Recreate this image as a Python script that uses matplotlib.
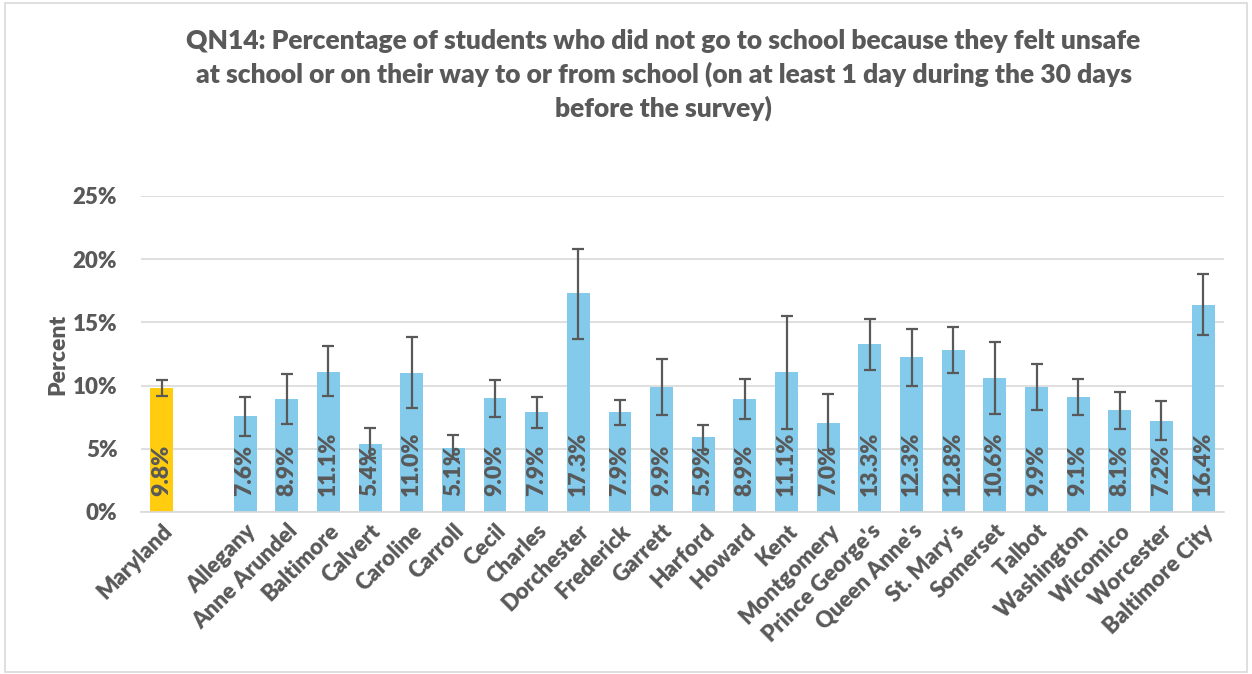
import numpy as np
import matplotlib.pyplot as plt
from matplotlib.patches import Rectangle

plt.rcParams['font.family'] = ['Lato', 'DejaVu Sans']

# data
state_name = 'Maryland'
state_value = 9.8
state_lo = 9.16
state_hi = 10.43

counties = ['Allegany', 'Anne Arundel', 'Baltimore', 'Calvert', 'Caroline', 'Carroll',
            'Cecil', 'Charles', 'Dorchester', 'Frederick', 'Garrett', 'Harford',
            'Howard', 'Kent', 'Montgomery', "Prince George's", "Queen Anne's",
            "St. Mary's", 'Somerset', 'Talbot', 'Washington', 'Wicomico',
            'Worcester', 'Baltimore City']
county_values = [7.6, 8.9, 11.1, 5.4, 11.0, 5.1, 9.0, 7.9, 17.3, 7.9, 9.9, 5.9,
                 8.9, 11.1, 7.0, 13.3, 12.3, 12.8, 10.6, 9.9, 9.1, 8.1, 7.2, 16.4]
county_lo = [6.02, 6.94, 9.16, 4.3, 8.24, 4.2, 7.50, 6.65, 13.67, 6.86, 7.66, 4.94,
             7.34, 6.6, 4.88, 11.27, 10.0, 11.01, 7.73, 8.05, 7.68, 6.57, 5.70, 14.02]
county_hi = [9.13, 10.88, 13.12, 6.65, 13.83, 6.12, 10.43, 9.13, 20.8, 8.84, 12.14, 6.92,
             10.51, 15.52, 9.35, 15.23, 14.47, 14.63, 13.41, 11.72, 10.51, 9.53, 8.76, 18.80]

title = ('QN14: Percentage of students who did not go to school because they felt unsafe\n'
         'at school or on their way to or from school (on at least 1 day during the 30 days\n'
         'before the survey)')

TXT = '#595959'
BLUE = '#83CAEB'
GOLD = '#FFCC0F'
W = 'heavy'

fig = plt.figure(figsize=(12.52, 6.74), dpi=100)
fig.patches.append(Rectangle((0.004, 0.003), 0.992, 0.992, transform=fig.transFigure,
                             fill=False, edgecolor='#D9D9D9', lw=1.2))
ax = fig.add_axes([0.1126, 0.2404, 0.865, 0.4688])

# Maryland in slot 0, gap, counties from slot 2
x_state = 0
x_cty = np.arange(len(counties)) + 2
width = 0.55

ax.bar(x_state, state_value, width=width, color=GOLD, zorder=2)
ax.bar(x_cty, county_values, width=width, color=BLUE, zorder=2)

err_kw = dict(fmt='none', ecolor='#595959', elinewidth=1.6, capsize=4.5, capthick=1.6, zorder=3)
ax.errorbar([x_state], [state_value],
            yerr=[[state_value - state_lo], [state_hi - state_value]], **err_kw)
cv = np.array(county_values)
ax.errorbar(x_cty, cv, yerr=[cv - np.array(county_lo), np.array(county_hi) - cv], **err_kw)

for x, v in [(x_state, state_value)] + list(zip(x_cty, county_values)):
    ax.text(x, 1.3, f'{v:.1f}%', rotation=90, ha='center', va='bottom',
            fontsize=16.5, fontweight=W, color=TXT, zorder=4)

ax.set_xlim(-0.5, 25.5)
ax.set_ylim(0, 25)
ax.set_yticks(np.arange(0, 26, 5))
ax.set_yticklabels([f'{t}%' for t in range(0, 26, 5)])
ax.set_xticks([x_state] + list(x_cty))
ax.set_xticklabels([state_name] + counties, rotation=45, ha='right', rotation_mode='anchor')
ax.tick_params(length=0, labelsize=16, labelcolor=TXT)
ax.tick_params(axis='x', pad=6)
ax.tick_params(axis='y', pad=17)
for lab in ax.get_xticklabels() + ax.get_yticklabels():
    lab.set_fontweight(W)

ax.grid(axis='y', color='#D9D9D9', lw=1.2, zorder=0)
ax.set_axisbelow(True)
for s in ['top', 'right', 'left']:
    ax.spines[s].set_visible(False)
ax.spines['bottom'].set_color('#D9D9D9')
ax.spines['bottom'].set_linewidth(1.2)

ax.set_ylabel('Percent', fontsize=16.5, fontweight=W, color=TXT, labelpad=3)
fig.text(0.53, 0.957, title, ha='center', va='top', fontsize=19, fontweight=W,
         color=TXT, linespacing=1.4)

fig.savefig('out.png', dpi=100)
